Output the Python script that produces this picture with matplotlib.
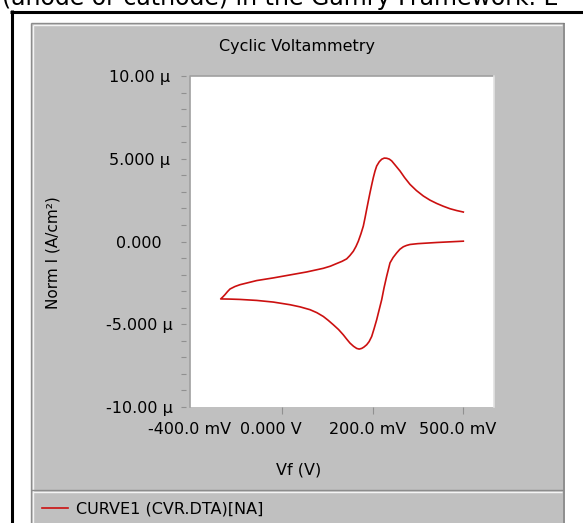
import matplotlib
matplotlib.use("Agg")
import matplotlib.pyplot as plt
from matplotlib.patches import Rectangle
from matplotlib.lines import Line2D
from matplotlib.ticker import MultipleLocator, FixedLocator, FixedFormatter
from matplotlib.transforms import ScaledTranslation

# ---------------- data (potential in mV, current density in µA/cm²) ----------------
cathodic_v = [400.7, 341.8, 300.0, 282.9, 275.0, 268.0, 260.5, 253.4, 245.5, 238.7,
              231.3, 225.5, 220.3, 214.5, 209.2, 203.5, 198.2, 192.5, 187.1, 181.0,
              176.1, 170.5, 165.0, 158.0, 150.3, 143.0, 135.5, 125.0, 113.4, 102.0,
              91.3, 77.0, 61.9, 40.0, 17.7, -19.2, -55.9, -92.8, -115.0, -135.5]
cathodic_i = [0.02, -0.06, -0.13, -0.18, -0.24, -0.32, -0.47, -0.69, -0.97, -1.29,
              -2.10, -2.80, -3.52, -4.15, -4.73, -5.27, -5.74, -6.05, -6.24, -6.38,
              -6.46, -6.50, -6.46, -6.33, -6.14, -5.90, -5.64, -5.32, -5.03, -4.76,
              -4.53, -4.30, -4.12, -3.95, -3.82, -3.66, -3.56, -3.50, -3.48, -3.47]
anodic_v = [-135.5, -130.5, -126.0, -120.5, -114.9, -104.0, -92.8, -55.9, -19.2, 17.7,
            54.6, 91.3, 107.0, 120.9, 132.5, 142.9, 150.0, 157.6, 163.5, 168.7,
            174.5, 179.7, 183.5, 187.1, 190.8, 194.5, 198.2, 201.8, 205.5, 209.2,
            215.0, 220.3, 226.0, 231.3, 237.0, 242.4, 250.0, 260.8, 271.0, 282.9,
            297.0, 312.3, 327.0, 341.8, 356.5, 371.3, 386.0, 400.7]
anodic_i = [-3.47, -3.34, -3.21, -3.03, -2.87, -2.72, -2.61, -2.36, -2.20, -2.02,
            -1.84, -1.62, -1.49, -1.33, -1.20, -1.05, -0.85, -0.59, -0.30, 0.02,
            0.47, 0.93, 1.43, 1.94, 2.45, 2.95, 3.42, 3.86, 4.25, 4.56,
            4.82, 4.97, 5.04, 5.03, 4.98, 4.87, 4.62, 4.26, 3.86, 3.45,
            3.08, 2.75, 2.50, 2.30, 2.13, 1.98, 1.87, 1.78]

y_ticks = [-10, -5, 0, 5, 10]
y_ticklabels = ["-10.00 µ", "-5.000 µ", "0.000", "5.000 µ", "10.00 µ"]
x_ticklabels = ["-400.0 mV", "0.000 V", "200.0 mV", "500.0 mV"]
series_label = "CURVE1 (CVR.DTA)[NA]"

# ---------------- figure ----------------
W, H = 583, 523
fig = plt.figure(figsize=(W / 100, H / 100), dpi=100)
fig.patch.set_facecolor("white")


def fx(px):
    return px / W


def fy(py):
    return 1 - py / H


def fline(x0, y0, x1, y1, color, lw, z=1):
    fig.add_artist(Line2D([fx(x0), fx(x1)], [fy(y0), fy(y1)], transform=fig.transFigure,
                          color=color, lw=lw, zorder=z, solid_capstyle="butt"))


# cut-off document text at the very top (only its lower part is visible)
fig.text(fx(2), fy(5), "(anode or cathode) in the Gamry Framework. E", fontsize=17,
         ha="left", va="baseline", color="black")

# black document frame
fline(11.5, 10, 11.5, 530, "black", 2.2)
fline(10, 11.5, 590, 11.5, "black", 2.2)

# grey panel
fig.add_artist(Rectangle((fx(31), fy(530)), fx(563) - fx(31), fy(23) - fy(530),
                         transform=fig.transFigure, facecolor="#c0c0c0",
                         edgecolor="none", zorder=0.5))
fline(31, 23, 563.5, 23, "#8c8c8c", 1.0)
fline(31, 23, 31, 530, "#8c8c8c", 1.0)
fline(563.5, 23, 563.5, 530, "#7a7a7a", 1.2)
fline(32.5, 24.5, 562, 24.5, "#f4f4f4", 1.0)
fline(32.5, 24.5, 32.5, 530, "#f4f4f4", 1.0)
# legend separator
fline(31, 490, 563, 490, "#8c8c8c", 1.0)
fline(32.5, 491.5, 562, 491.5, "#f4f4f4", 1.0)

# ---------------- axes ----------------
ax = fig.add_axes([fx(190), fy(407), fx(494) - fx(190), fy(76) - fy(407)])
ax.set_zorder(10)
ax.set_facecolor("white")

line, = ax.plot(cathodic_v + anodic_v[1:], cathodic_i + anodic_i[1:],
                color="#cc1010", lw=1.2, label=series_label)

xmin = -92 / 90.5 * 200
xmax = (494 - 282) / 90.5 * 200
ax.set_xlim(xmin, xmax)
ax.set_ylim(-10, 10)

for s in ax.spines.values():
    s.set_visible(False)
ax.spines["left"].set_position(("outward", 3))

# sunken white-area border
ax.add_line(Line2D([0, 0, 1], [0, 1, 1], transform=ax.transAxes, color="#a0a0a0",
                   lw=1.2, clip_on=False))
ax.add_line(Line2D([1, 1], [0, 1], transform=ax.transAxes, color="#e2e2e2",
                   lw=1.2, clip_on=False))

# y ticks
ax.yaxis.set_major_locator(FixedLocator(y_ticks))
ax.yaxis.set_major_formatter(FixedFormatter(y_ticklabels))
ax.yaxis.set_minor_locator(MultipleLocator(1))
ax.tick_params(axis="y", which="both", direction="out", length=3.6, width=0.8,
               color="#909090")
ax.tick_params(axis="y", which="major", pad=30, labelsize=11.5)
for t in ax.get_yticklabels():
    t.set_horizontalalignment("center")

# x ticks
ax.xaxis.set_major_locator(FixedLocator([xmin, 0, 200, 400]))
ax.xaxis.set_major_formatter(FixedFormatter(x_ticklabels))
ax.tick_params(axis="x", which="major", direction="out", length=5, width=0.8,
               color="#909090", pad=6, labelsize=11.5)
ticks = ax.xaxis.get_major_ticks()
ticks[0].tick1line.set_visible(False)
offsets = [0, -11, -5, -5]
for t, off in zip(ax.get_xticklabels(), offsets):
    t.set_transform(t.get_transform() + ScaledTranslation(off / 100, 0, fig.dpi_scale_trans))

# axis labels
ax.set_ylabel("Norm I (A/cm²)", fontsize=11)
ax.yaxis.set_label_coords((53 - 190) / 304, (407 - 253) / 331)
ax.yaxis.label.set_verticalalignment("center")
ax.set_xlabel("Vf (V)", fontsize=11.5)
ax.xaxis.set_label_coords((299 - 190) / 304, (407 - 470) / 331)
ax.xaxis.label.set_verticalalignment("center")

# title
fig.text(fx(297), fy(47), "Cyclic Voltammetry", fontsize=11.5, ha="center", va="center")

# legend
leg = fig.legend(handles=[line], labels=[series_label], loc="center left",
                 bbox_to_anchor=(fx(42), fy(509)), frameon=False, fontsize=11.5,
                 handlelength=1.6, handletextpad=0.55, borderpad=0, borderaxespad=0)
leg.set_zorder(20)

fig.savefig("out.png", dpi=100)
